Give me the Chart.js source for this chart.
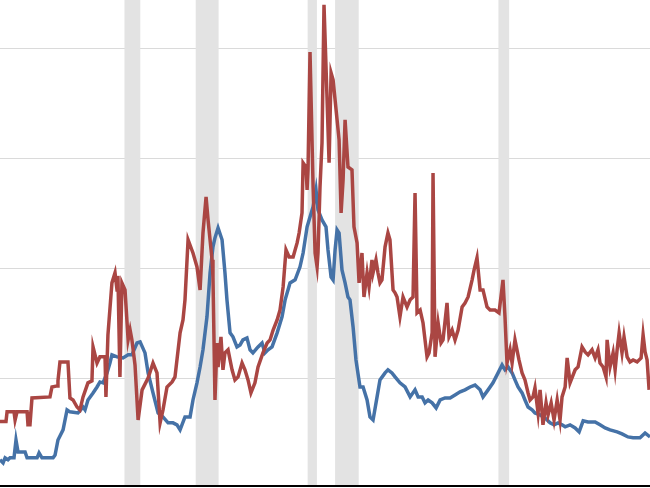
<!DOCTYPE html>
<html>
<head>
<meta charset="utf-8">
<script src="https://cdn.jsdelivr.net/npm/chart.js@4"></script>
<style>
  html, body { margin: 0; padding: 0; background: #fff; }
  #wrap { width: 650px; height: 488px; }
</style>
</head>
<body>
<div id="wrap"><canvas id="rateChart"></canvas></div>
<script>
// decimal years and values
const redYears = [1963.07, 1963.40, 1963.46, 1963.84, 1963.90, 1964.01, 1964.56, 1964.61, 1964.72, 1964.83,
  1965.82, 1965.93, 1966.21, 1966.26, 1966.37, 1966.81, 1966.92, 1967.09, 1967.31, 1967.47,
  1967.64, 1967.91, 1968.13, 1968.19, 1968.41, 1968.57, 1968.85, 1968.90, 1969.01, 1969.23,
  1969.40, 1969.51, 1969.56, 1969.67, 1969.78, 1969.95, 1970.12, 1970.23, 1970.33, 1970.50,
  1970.67, 1970.89, 1971.22, 1971.49, 1971.71, 1971.88, 1972.04, 1972.26, 1972.54, 1972.70,
  1972.98, 1973.14, 1973.25, 1973.42, 1973.69, 1973.91, 1974.08, 1974.24, 1974.41, 1974.52,
  1974.74, 1974.79, 1974.90, 1975.01, 1975.07, 1975.23, 1975.34, 1975.45, 1975.62, 1975.84,
  1976.00, 1976.17, 1976.39, 1976.55, 1976.72, 1976.88, 1977.10, 1977.27, 1977.54, 1977.77,
  1977.93, 1978.10, 1978.32, 1978.48, 1978.65, 1978.81, 1978.98, 1979.20, 1979.42, 1979.53,
  1979.69, 1979.75, 1979.91, 1979.97, 1980.02, 1980.13, 1980.30, 1980.41, 1980.52, 1980.57,
  1980.68, 1980.79, 1980.90, 1981.07, 1981.18, 1981.29, 1981.40, 1981.62, 1981.73, 1981.84,
  1981.95, 1982.06, 1982.22, 1982.44, 1982.55, 1982.72, 1982.83, 1982.99, 1983.10, 1983.27,
  1983.38, 1983.54, 1983.60, 1983.76, 1983.87, 1983.98, 1984.09, 1984.26, 1984.42, 1984.53,
  1984.70, 1984.81, 1984.92, 1985.08, 1985.25, 1985.47, 1985.64, 1985.80, 1985.91, 1986.02,
  1986.19, 1986.35, 1986.57, 1986.68, 1986.85, 1986.90, 1987.01, 1987.18, 1987.34, 1987.45,
  1987.67, 1987.78, 1987.95, 1988.11, 1988.28, 1988.50, 1988.66, 1988.83, 1989.05, 1989.16,
  1989.32, 1989.49, 1989.65, 1989.87, 1990.04, 1990.31, 1990.53, 1990.75, 1990.86, 1990.97,
  1991.14, 1991.25, 1991.41, 1991.63, 1991.80, 1991.96, 1992.13, 1992.24, 1992.40, 1992.51,
  1992.68, 1992.79, 1992.90, 1992.95, 1993.12, 1993.23, 1993.40, 1993.56, 1993.73, 1993.89,
  1994.00, 1994.17, 1994.28, 1994.44, 1994.72, 1994.88, 1995.10, 1995.27, 1995.43, 1995.65,
  1995.82, 1995.98, 1996.09, 1996.26, 1996.42, 1996.48, 1996.64, 1996.81, 1996.92, 1997.03,
  1997.14, 1997.30, 1997.41, 1997.58, 1997.74, 1997.91, 1998.13, 1998.35, 1998.46, 1998.57,
  1998.68, 1998.79];
const redValues = [3.04, 3.04, 3.49, 3.49, 3.11, 3.49, 3.49, 2.89, 2.89, 4.11,
  4.16, 4.61, 4.66, 4.89, 5.75, 5.75, 4.11, 4.02, 3.70, 3.57,
  4.16, 4.80, 4.89, 6.43, 5.70, 5.98, 5.98, 4.16, 6.98, 9.34,
  9.80, 9.02, 9.66, 5.07, 9.34, 9.02, 6.75, 7.20, 6.75, 5.61,
  3.11, 4.48, 5.02, 5.70, 5.25, 2.98, 3.57, 4.61, 4.84, 5.07,
  7.07, 7.66, 8.57, 11.30, 10.70, 10.07, 9.02, 11.61, 13.25, 12.20,
  10.39, 9.61, 4.02, 6.61, 5.52, 6.89, 5.39, 6.16, 6.30, 5.39,
  4.93, 5.07, 5.70, 5.39, 4.93, 4.34, 4.80, 5.52, 6.16, 6.61,
  6.75, 7.20, 7.66, 8.11, 9.16, 10.84, 10.52, 10.52, 11.16, 11.61,
  12.52, 14.80, 14.61, 13.57, 14.48, 19.84, 13.70, 10.70, 10.07, 10.70,
  13.70, 15.70, 21.98, 17.66, 14.80, 18.89, 18.57, 16.75, 15.84, 12.52,
  14.02, 16.75, 14.61, 14.48, 11.89, 11.16, 9.34, 10.70, 8.70, 9.80,
  9.16, 10.39, 9.80, 10.39, 9.80, 9.34, 9.48, 10.98, 11.61, 11.30,
  9.02, 8.89, 8.70, 7.80, 8.70, 8.25, 8.57, 8.70, 13.43, 7.98,
  8.11, 7.52, 5.98, 6.16, 7.07, 14.34, 5.98, 7.52, 6.61, 6.75,
  8.43, 6.89, 7.20, 6.75, 7.20, 8.25, 8.43, 8.70, 9.48, 9.93,
  10.48, 9.02, 9.02, 8.25, 8.11, 8.11, 7.98, 9.48, 7.80, 5.70,
  6.30, 5.70, 6.75, 5.84, 5.25, 4.93, 4.34, 4.02, 4.16, 4.57,
  3.43, 4.48, 3.43, 2.89, 3.89, 3.34, 3.89, 3.11, 4.02, 3.11,
  4.16, 4.61, 5.93, 4.80, 5.39, 5.52, 6.43, 6.20, 6.07, 6.30,
  5.93, 6.30, 5.70, 5.52, 5.07, 6.75, 5.52, 6.16, 5.39, 6.30,
  7.07, 6.16, 6.89, 5.98, 5.75, 5.84, 5.75, 5.93, 6.98, 6.20,
  5.84, 4.48];

const blueYears = [1963.07, 1963.24, 1963.35, 1963.51, 1963.62, 1963.84, 1963.95, 1964.06, 1964.45, 1964.56,
  1965.11, 1965.22, 1965.38, 1965.99, 1966.10, 1966.26, 1966.54, 1966.76, 1966.92, 1967.36,
  1967.64, 1967.75, 1967.91, 1968.19, 1968.41, 1968.57, 1968.74, 1968.96, 1969.12, 1969.23,
  1969.51, 1969.84, 1970.12, 1970.33, 1970.61, 1970.78, 1971.05, 1971.22, 1971.49, 1971.77,
  1972.04, 1972.32, 1972.59, 1972.81, 1972.98, 1973.25, 1973.53, 1973.69, 1973.91, 1974.08,
  1974.24, 1974.46, 1974.63, 1974.79, 1974.90, 1975.07, 1975.29, 1975.45, 1975.56, 1975.73,
  1975.89, 1976.11, 1976.28, 1976.44, 1976.66, 1976.83, 1976.99, 1977.27, 1977.49, 1977.65,
  1977.82, 1978.04, 1978.32, 1978.59, 1978.76, 1979.03, 1979.31, 1979.58, 1979.75, 1979.97,
  1980.13, 1980.30, 1980.46, 1980.57, 1980.79, 1981.01, 1981.12, 1981.29, 1981.40, 1981.51,
  1981.62, 1981.73, 1981.89, 1982.06, 1982.22, 1982.33, 1982.50, 1982.66, 1982.88, 1983.05,
  1983.27, 1983.43, 1983.60, 1983.82, 1983.98, 1984.26, 1984.42, 1984.64, 1984.81, 1985.08,
  1985.36, 1985.64, 1985.91, 1986.08, 1986.30, 1986.46, 1986.63, 1986.85, 1987.07, 1987.29,
  1987.56, 1987.84, 1988.11, 1988.39, 1988.66, 1988.94, 1989.21, 1989.49, 1989.65, 1989.93,
  1990.20, 1990.48, 1990.70, 1990.86, 1991.03, 1991.25, 1991.41, 1991.58, 1991.80, 1991.96,
  1992.13, 1992.35, 1992.51, 1992.79, 1993.07, 1993.34, 1993.56, 1993.78, 1994.00, 1994.17,
  1994.44, 1994.72, 1994.94, 1995.16, 1995.43, 1995.82, 1996.09, 1996.37, 1996.64, 1997.03,
  1997.30, 1997.63, 1997.91, 1998.29, 1998.57, 1998.84];
const blueValues = [1.30, 1.16, 1.39, 1.30, 1.39, 1.39, 2.20, 1.66, 1.66, 1.39,
  1.39, 1.61, 1.39, 1.39, 1.52, 2.20, 2.66, 3.57, 3.48, 3.43,
  3.70, 3.57, 4.02, 4.34, 4.61, 4.84, 4.80, 5.25, 5.70, 6.07,
  5.98, 5.93, 6.07, 6.07, 6.61, 6.66, 6.16, 5.25, 4.34, 3.43,
  3.25, 2.98, 2.98, 2.89, 2.66, 3.25, 3.25, 4.02, 4.80, 5.52,
  6.30, 7.80, 9.80, 10.98, 11.39, 11.84, 11.30, 9.80, 8.57, 7.07,
  6.89, 6.43, 6.52, 6.75, 6.84, 6.30, 6.16, 6.43, 6.61, 6.16,
  6.30, 6.43, 7.07, 7.80, 8.57, 9.34, 9.48, 10.07, 10.70, 11.89,
  12.34, 12.80, 13.57, 12.66, 12.20, 11.89, 10.84, 9.61, 9.48, 10.84,
  11.75, 11.61, 9.93, 9.34, 8.70, 8.57, 7.34, 5.84, 4.61, 4.61,
  4.02, 3.25, 3.11, 4.16, 4.93, 5.25, 5.39, 5.25, 5.07, 4.80,
  4.61, 4.16, 4.48, 4.16, 4.16, 3.89, 4.02, 3.89, 3.66, 4.02,
  4.11, 4.11, 4.25, 4.39, 4.48, 4.61, 4.70, 4.48, 4.16, 4.48,
  4.80, 5.25, 5.61, 5.39, 5.52, 5.25, 4.93, 4.61, 4.34, 4.02,
  3.70, 3.57, 3.43, 3.34, 3.20, 2.98, 2.89, 2.98, 2.89, 2.80,
  2.89, 2.75, 2.57, 3.07, 3.02, 3.02, 2.89, 2.75, 2.66, 2.57,
  2.48, 2.34, 2.30, 2.30, 2.52, 2.34];

// shaded recessions
const recessionStarts = [1969.92, 1973.84, 1980.00, 1981.51, 1990.50];
const recessionEnds = [1970.79, 1975.10, 1980.51, 1982.81, 1991.09];

const yTicks = [5, 10, 15, 20];

const toPoints = (xs, ys) => xs.map((x, i) => ({ x, y: ys[i] }));

const recessionBands = {
  id: "recessionBands",
  beforeDatasetsDraw(chart) {
    const { ctx, chartArea, scales } = chart;
    ctx.save();
    ctx.fillStyle = "#e3e3e3";
    recessionStarts.forEach((start, i) => {
      const x1 = scales.x.getPixelForValue(start);
      const x2 = scales.x.getPixelForValue(recessionEnds[i]);
      ctx.fillRect(x1, chartArea.top, x2 - x1, chartArea.bottom - chartArea.top);
    });
    ctx.restore();
  }
};

const ctx = document.getElementById("rateChart").getContext("2d");
const chart = new Chart(ctx, {
  type: "line",
  data: {
    datasets: [{
      label: "Red series",
      data: toPoints(redYears, redValues),
      borderColor: "#AA4643",
      borderWidth: 3.5,
      pointRadius: 0,
      tension: 0
    }, {
      label: "Blue series",
      data: toPoints(blueYears, blueValues),
      borderColor: "#4572A7",
      borderWidth: 3.5,
      pointRadius: 0,
      tension: 0
    }]
  },
  options: {
    responsive: true,
    maintainAspectRatio: false,
    animation: false,
    layout: { padding: { left: 0, right: 0, top: 0, bottom: 2 } },
    plugins: {
      legend: { display: false },
      tooltip: { enabled: false }
    },
    scales: {
      x: {
        type: "linear",
        min: 1963.07,
        max: 1998.84,
        ticks: { display: false },
        grid: { display: false, drawTicks: false },
        border: { display: true, color: "#000", width: 2, z: 1 }
      },
      y: {
        min: 0.11,
        max: 22.2,
        afterBuildTicks: axis => { axis.ticks = yTicks.map(v => ({ value: v })); },
        ticks: { display: false },
        grid: { color: "#dadada", lineWidth: 1, drawTicks: false },
        border: { display: false }
      }
    }
  },
  plugins: [recessionBands]
});
</script>
</body>
</html>
